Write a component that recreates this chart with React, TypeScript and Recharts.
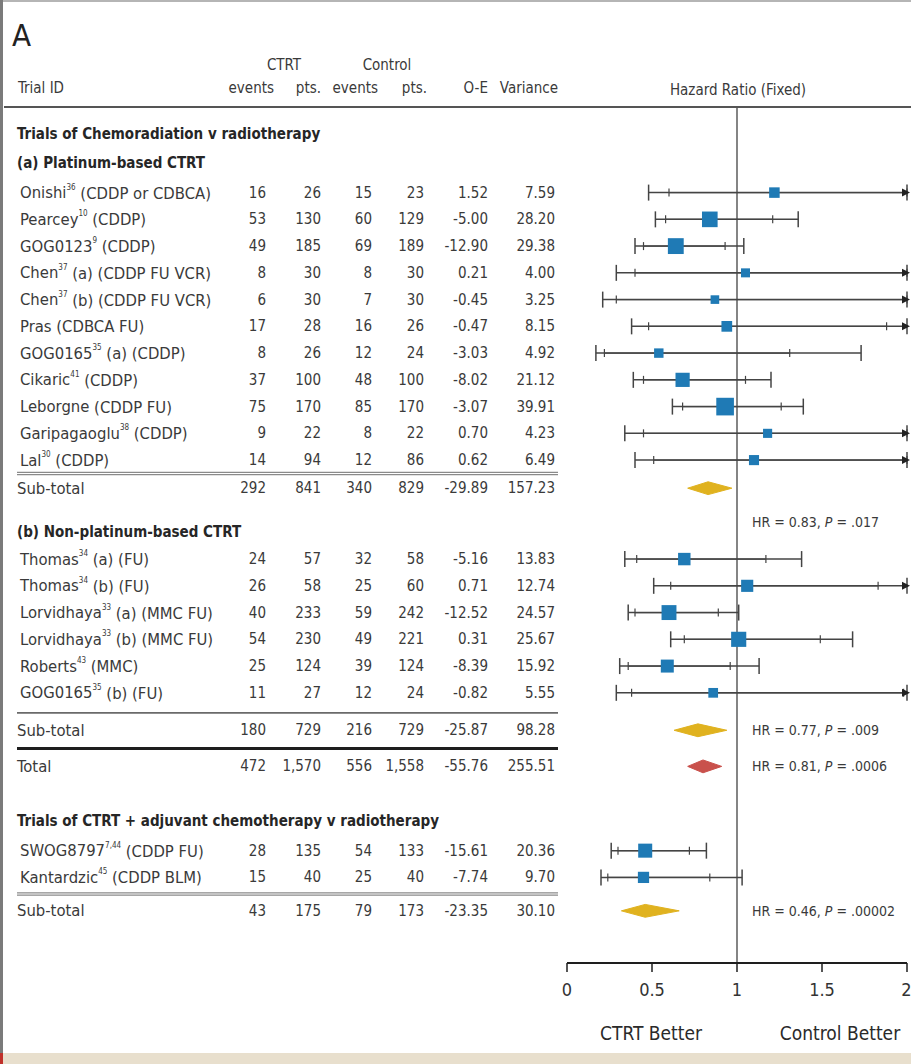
import React from 'react';
import { ComposedChart, Scatter, XAxis, YAxis, ErrorBar, ReferenceLine } from 'recharts';

const FONT = '"DejaVu Sans Condensed", "Liberation Sans Narrow", sans-serif';
const INK = '#3a3a3a';
const BLUE = '#1f7ab5';
const GOLD = '#e0b21f';
const RED = '#c9514c';
const XMAX = 2;

// (a) Platinum-based CTRT
const namesA = ['Onishi', 'Pearcey', 'GOG0123', 'Chen', 'Chen', 'Pras', 'GOG0165', 'Cikaric', 'Leborgne', 'Garipagaoglu', 'Lal'];
const refsA = ['36', '10', '9', '37', '37', '', '35', '41', '', '38', '30'];
const armsA = ['(CDDP or CDBCA)', '(CDDP)', '(CDDP)', '(a) (CDDP FU VCR)', '(b) (CDDP FU VCR)', '(CDBCA FU)', '(a) (CDDP)', '(CDDP)', '(CDDP FU)', '(CDDP)', '(CDDP)'];
const ctrtEventsA = [16, 53, 49, 8, 6, 17, 8, 37, 75, 9, 14];
const ctrtPtsA = [26, 130, 185, 30, 30, 28, 26, 100, 170, 22, 94];
const ctlEventsA = [15, 60, 69, 8, 7, 16, 12, 48, 85, 8, 12];
const ctlPtsA = [23, 129, 189, 30, 30, 26, 24, 100, 170, 22, 86];
const oeA = [1.52, -5.0, -12.9, 0.21, -0.45, -0.47, -3.03, -8.02, -3.07, 0.7, 0.62];
const varA = [7.59, 28.2, 29.38, 4.0, 3.25, 8.15, 4.92, 21.12, 39.91, 4.23, 6.49];
const hrA = [1.22, 0.84, 0.64, 1.05, 0.87, 0.94, 0.54, 0.68, 0.93, 1.18, 1.1];
const lo99A = [0.48, 0.52, 0.4, 0.29, 0.21, 0.38, 0.17, 0.39, 0.62, 0.34, 0.4];
const hi99A = [3.11, 1.36, 1.04, 3.82, 3.63, 2.33, 1.73, 1.2, 1.39, 4.07, 3.02];
const lo95A = [0.6, 0.58, 0.45, 0.4, 0.29, 0.48, 0.22, 0.45, 0.68, 0.45, 0.51];
const hi95A = [2.49, 1.21, 0.93, 2.81, 2.63, 1.88, 1.31, 1.05, 1.26, 3.05, 2.37];
const subTotalA = [292, 841, 340, 829, -29.89, 157.23];
const diamondA = [0.71, 0.83, 0.97];

// (b) Non-platinum-based CTRT
const namesB = ['Thomas', 'Thomas', 'Lorvidhaya', 'Lorvidhaya', 'Roberts', 'GOG0165'];
const refsB = ['34', '34', '33', '33', '43', '35'];
const armsB = ['(a) (FU)', '(b) (FU)', '(a) (MMC FU)', '(b) (MMC FU)', '(MMC)', '(b) (FU)'];
const ctrtEventsB = [24, 26, 40, 54, 25, 11];
const ctrtPtsB = [57, 58, 233, 230, 124, 27];
const ctlEventsB = [32, 25, 59, 49, 39, 12];
const ctlPtsB = [58, 60, 242, 221, 124, 24];
const oeB = [-5.16, 0.71, -12.52, 0.31, -8.39, -0.82];
const varB = [13.83, 12.74, 24.57, 25.67, 15.92, 5.55];
const hrB = [0.69, 1.06, 0.6, 1.01, 0.59, 0.86];
const lo99B = [0.34, 0.51, 0.36, 0.61, 0.31, 0.29];
const hi99B = [1.38, 2.18, 1.01, 1.68, 1.13, 2.62];
const lo95B = [0.41, 0.61, 0.4, 0.69, 0.36, 0.38];
const hi95B = [1.17, 1.83, 0.89, 1.49, 0.96, 1.98];
const subTotalB = [180, 729, 216, 729, -25.87, 98.28];
const diamondB = [0.63, 0.77, 0.94];

const totalAll = [472, 1570, 556, 1558, -55.76, 255.51];
const diamondTotal = [0.71, 0.8, 0.91];

// CTRT + adjuvant chemotherapy
const namesC = ['SWOG8797', 'Kantardzic'];
const refsC = ['7,44', '45'];
const armsC = ['(CDDP FU)', '(CDDP BLM)'];
const ctrtEventsC = [28, 15];
const ctrtPtsC = [135, 40];
const ctlEventsC = [54, 25];
const ctlPtsC = [133, 40];
const oeC = [-15.61, -7.74];
const varC = [20.36, 9.7];
const hrC = [0.46, 0.45];
const lo99C = [0.26, 0.2];
const hi99C = [0.82, 1.03];
const lo95C = [0.3, 0.24];
const hi95C = [0.72, 0.84];
const subTotalC = [43, 175, 79, 173, -23.35, 30.1];
const diamondC = [0.32, 0.46, 0.66];

const sectionTitles = ['Trials of Chemoradiation v radiotherapy', 'Trials of CTRT + adjuvant chemotherapy v radiotherapy'];
const groupTitles = ['(a) Platinum-based CTRT', '(b) Non-platinum-based CTRT'];
const notes = [
  { hr: '0.83', p: '.017' },
  { hr: '0.77', p: '.009' },
  { hr: '0.81', p: '.0006' },
  { hr: '0.46', p: '.00002' },
];
const xTicks = [0, 0.5, 1, 1.5, 2];

const fmtCells = (c: number[]) =>
  c.map((v, i) => (i < 4 ? v.toLocaleString('en-US') : v.toFixed(2)));

const tableRows: any[] = [];
const trialPoints: any[] = [];
const rules: any[] = [];

const addTrials = (
  start: number, names: string[], refs: string[], arms: string[],
  ce: number[], cp: number[], ke: number[], kp: number[], oe: number[], v: number[],
  hr: number[], l99: number[], h99: number[], l95: number[], h95: number[]
) => {
  names.forEach((n, i) => {
    const y = start + i;
    tableRows.push({ x: 0, y, kind: 'trial', name: n, ref: refs[i], arm: arms[i], cells: fmtCells([ce[i], cp[i], ke[i], kp[i], oe[i], v[i]]) });
    const top99 = Math.min(h99[i], XMAX);
    const top95 = Math.min(h95[i], XMAX);
    trialPoints.push({
      x: hr[i], y, v: v[i], over: h99[i] > XMAX,
      e99: [hr[i] - l99[i], top99 - hr[i]],
      e95: [hr[i] - l95[i], top95 - hr[i]],
    });
  });
};

// layout (row units)
tableRows.push({ x: 0, y: -2.2, kind: 'title', text: sectionTitles[0] });
tableRows.push({ x: 0, y: -1.1, kind: 'title', text: groupTitles[0] });
addTrials(0, namesA, refsA, armsA, ctrtEventsA, ctrtPtsA, ctlEventsA, ctlPtsA, oeA, varA, hrA, lo99A, hi99A, lo95A, hi95A);
rules.push({ x: 0, y: 10.5, kind: 'double' });
tableRows.push({ x: 0, y: 11.05, kind: 'sub', name: 'Sub-total', cells: fmtCells(subTotalA) });
tableRows.push({ x: 0, y: 12.3, kind: 'note', ...notes[0] });
tableRows.push({ x: 0, y: 12.7, kind: 'title', text: groupTitles[1] });
addTrials(13.7, namesB, refsB, armsB, ctrtEventsB, ctrtPtsB, ctlEventsB, ctlPtsB, oeB, varB, hrB, lo99B, hi99B, lo95B, hi95B);
rules.push({ x: 0, y: 19.45, kind: 'thin' });
tableRows.push({ x: 0, y: 20.1, kind: 'sub', name: 'Sub-total', cells: fmtCells(subTotalB) });
tableRows.push({ x: 0, y: 20.1, kind: 'note', ...notes[1] });
rules.push({ x: 0, y: 20.78, kind: 'thick' });
tableRows.push({ x: 0, y: 21.45, kind: 'sub', name: 'Total', cells: fmtCells(totalAll) });
tableRows.push({ x: 0, y: 21.45, kind: 'note', ...notes[2] });
tableRows.push({ x: 0, y: 23.5, kind: 'title', text: sectionTitles[1] });
addTrials(24.6, namesC, refsC, armsC, ctrtEventsC, ctrtPtsC, ctlEventsC, ctlPtsC, oeC, varC, hrC, lo99C, hi99C, lo95C, hi95C);
rules.push({ x: 0, y: 26.22, kind: 'double' });
tableRows.push({ x: 0, y: 26.85, kind: 'sub', name: 'Sub-total', cells: fmtCells(subTotalC) });
tableRows.push({ x: 0, y: 26.85, kind: 'note', ...notes[3] });

const diamonds = [
  { ci: diamondA, y: 11.05, fill: GOLD },
  { ci: diamondB, y: 20.1, fill: GOLD },
  { ci: diamondTotal, y: 21.45, fill: RED },
  { ci: diamondC, y: 26.85, fill: GOLD },
].map((d) => ({
  fill: d.fill,
  pts: [
    { x: d.ci[0], y: d.y },
    { x: d.ci[1], y: d.y - 0.24 },
    { x: d.ci[2], y: d.y },
    { x: d.ci[1], y: d.y + 0.24 },
  ],
}));

const arrows = trialPoints.filter((p) => p.over).map((p) => ({ x: XMAX, y: p.y }));

const COLS = [266, 321, 372, 424, 488, 555];

const TableRow = (props: any) => {
  const { cy, payload: r } = props;
  if (r.kind === 'title') {
    return (
      <text x={17} y={cy} fontFamily={FONT} fontSize={15} fontWeight="bold" fill="#262626" dominantBaseline="central">
        {r.text}
      </text>
    );
  }
  if (r.kind === 'note') {
    return (
      <text x={752} y={cy} fontFamily={FONT} fontSize={14} fill={INK} dominantBaseline="central">
        HR = {r.hr}, <tspan fontStyle="italic">P</tspan> = {r.p}
      </text>
    );
  }
  return (
    <g fontFamily={FONT} fill={INK}>
      <text x={r.kind === 'trial' ? 20 : 17} y={cy} fontSize={16.5} dominantBaseline="central">
        {r.name}
        {r.ref ? (
          <tspan fontSize={8} dy={-6}>{r.ref}</tspan>
        ) : null}
        {r.arm ? <tspan dy={r.ref ? 6 : 0}>{' ' + r.arm}</tspan> : null}
      </text>
      {r.cells.map((c: string, i: number) => (
        <text key={i} x={COLS[i]} y={cy} fontSize={15} textAnchor="end" dominantBaseline="central">
          {c}
        </text>
      ))}
    </g>
  );
};

const Rule = (props: any) => {
  const { cy, payload } = props;
  const k = payload.kind;
  if (k === 'double') {
    return (
      <g stroke="#8a8a8a">
        <line x1={17} x2={558} y1={cy - 1.2} y2={cy - 1.2} strokeWidth={1.3} />
        <line x1={17} x2={558} y1={cy + 1.2} y2={cy + 1.2} strokeWidth={1.3} />
      </g>
    );
  }
  const stroke = k === 'thick' ? '#1e1e1e' : '#6a6a6a';
  const w = k === 'thick' ? 3 : 1.6;
  return <line x1={17} x2={558} y1={cy} y2={cy} stroke={stroke} strokeWidth={w} />;
};

const Marker = (props: any) => {
  const { cx, cy, payload } = props;
  const s = 5 + 2 * Math.sqrt(payload.v);
  return <rect x={cx - s / 2} y={cy - s / 2} width={s} height={s} fill={BLUE} />;
};

const Arrow = (props: any) => {
  const { cx, cy } = props;
  return <polygon points={`${cx - 5},${cy - 4} ${cx + 3},${cy} ${cx - 5},${cy + 4}`} fill="#222" />;
};

const noDot = () => <g />;

const diamondLine = (fill: string) => (p: any) => (
  <polygon points={p.points.map((q: any) => `${q.x},${q.y}`).join(' ')} fill={fill} stroke={fill} strokeWidth={1} />
);

const errKey = (key: string) => (d: any) => (d.payload ? d.payload[key] : d[key]);

export default function App() {
  return (
    <div style={{ position: 'absolute', left: 0, top: 0, width: 911, height: 1064, background: '#fff' }}>
      <ComposedChart width={911} height={1064} margin={{ top: 107, right: 4, bottom: 31, left: 567 }}>
        <XAxis
          xAxisId="hr"
          dataKey="x"
          type="number"
          domain={[0, XMAX]}
          ticks={xTicks}
          height={70}
          axisLine={{ stroke: '#1e1e1e', strokeWidth: 2 }}
          tickLine={{ stroke: '#1e1e1e', strokeWidth: 1.5 }}
          tickSize={9}
          tickMargin={11}
          tick={{ fontFamily: FONT, fontSize: 18, fill: '#333' }}
        />
        <XAxis xAxisId="t" dataKey="x" type="number" domain={[0, 1]} hide />
        <YAxis dataKey="y" type="number" domain={[-3.2, 28.8]} reversed hide />
        <ReferenceLine xAxisId="hr" x={1} stroke="#333" strokeWidth={1.2} />
        <Scatter xAxisId="t" data={rules} shape={Rule} isAnimationActive={false} />
        <Scatter xAxisId="t" data={tableRows} shape={TableRow} isAnimationActive={false} />
        <Scatter xAxisId="hr" data={trialPoints} shape={Marker} isAnimationActive={false}>
          <ErrorBar direction="x" dataKey={errKey('e99')} width={8} stroke="#444" strokeWidth={1.5} />
          <ErrorBar direction="x" dataKey={errKey('e95')} width={4} stroke="#444" strokeWidth={1.2} />
        </Scatter>
        <Scatter xAxisId="hr" data={arrows} shape={Arrow} isAnimationActive={false} />
        {diamonds.map((d, i) => (
          <Scatter key={i} xAxisId="hr" data={d.pts} shape={noDot} line={diamondLine(d.fill)} isAnimationActive={false} />
        ))}
      </ComposedChart>
      <svg width={911} height={1064} style={{ position: 'absolute', left: 0, top: 0, pointerEvents: 'none' }} fontFamily={FONT}>
        <line x1={0} x2={911} y1={1} y2={1} stroke="#b5b5b5" strokeWidth={2} />
        <line x1={1.5} x2={1.5} y1={0} y2={1053} stroke="#7a7a7a" strokeWidth={3} />
        <rect x={0} y={1053} width={911} height={11} fill="#e8dfcd" />
        <rect x={0} y={1053} width={3} height={11} fill="#c0302a" />
        <text x={12} y={46} fontSize={31} fill="#222">A</text>
        <text x={284} y={65} fontSize={15} fill={INK} textAnchor="middle" dominantBaseline="central">CTRT</text>
        <text x={387} y={65} fontSize={15} fill={INK} textAnchor="middle" dominantBaseline="central">Control</text>
        <text x={18} y={88} fontSize={15} fill={INK} dominantBaseline="central">Trial ID</text>
        <text x={274} y={88} fontSize={15} fill={INK} textAnchor="end" dominantBaseline="central">events</text>
        <text x={321} y={88} fontSize={15} fill={INK} textAnchor="end" dominantBaseline="central">pts.</text>
        <text x={378} y={88} fontSize={15} fill={INK} textAnchor="end" dominantBaseline="central">events</text>
        <text x={427} y={88} fontSize={15} fill={INK} textAnchor="end" dominantBaseline="central">pts.</text>
        <text x={488} y={88} fontSize={15} fill={INK} textAnchor="end" dominantBaseline="central">O-E</text>
        <text x={558} y={88} fontSize={15} fill={INK} textAnchor="end" dominantBaseline="central">Variance</text>
        <text x={738} y={90} fontSize={15} fill={INK} textAnchor="middle" dominantBaseline="central">Hazard Ratio (Fixed)</text>
        <line x1={4} x2={911} y1={107} y2={107} stroke="#555" strokeWidth={2} />
        <text x={651} y={1033} fontSize={19} fill="#2a2a2a" textAnchor="middle" dominantBaseline="central">CTRT Better</text>
        <text x={840} y={1033} fontSize={19} fill="#2a2a2a" textAnchor="middle" dominantBaseline="central">Control Better</text>
      </svg>
    </div>
  );
}
